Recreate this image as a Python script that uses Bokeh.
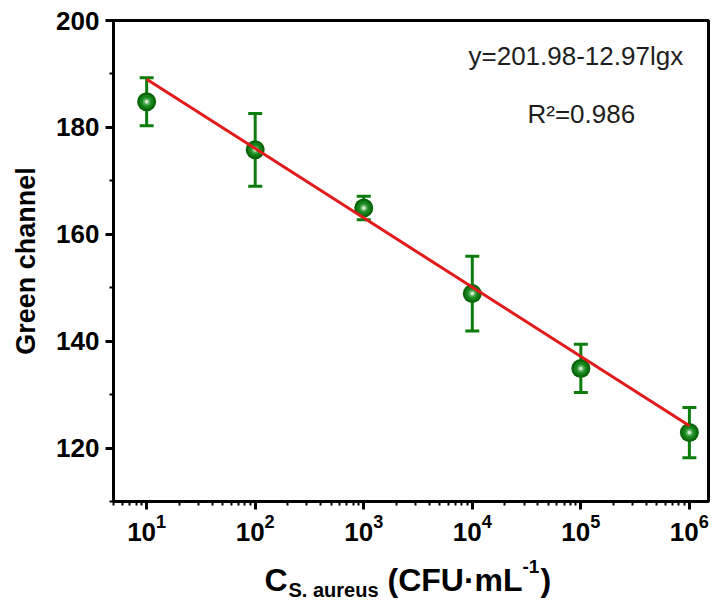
from bokeh.plotting import figure
from bokeh.layouts import column
from bokeh.models import (ColumnDataSource, Whisker, TeeHead, Label, LogTicker,
                          SingleIntervalTicker, Range1d, LogTickFormatter)
from bokeh.core.properties import value
from bokeh.embed import file_html
from bokeh.resources import INLINE
import math

# ---- data ----
conc = [1e1, 1e2, 1e3, 1e4, 1e5, 1e6]
green = [184.8, 175.8, 164.9, 148.9, 134.9, 122.9]
green_err = [4.5, 6.8, 2.2, 7.0, 4.5, 4.7]
fit_intercept = 201.98
fit_slope = -12.97
fit_x = [1e1, 1e6]
eq_text = "y=201.98-12.97lgx"
r2_text = "R²=0.986"
y_title = "Green channel"
x_title_parts = ["C", "S. aureus", "(CFU·mL", "-1", ")"]

fit_y = [fit_intercept + fit_slope * math.log10(v) for v in fit_x]

src = ColumnDataSource(dict(
    x=conc, y=green,
    upper=[g + e for g, e in zip(green, green_err)],
    lower=[g - e for g, e in zip(green, green_err)],
))

FONT = "Liberation Sans"
GREEN = "#0c7c0c"

p = figure(width=714, height=546, x_axis_type="log",
           x_range=Range1d(4.95, 1.5e6), y_range=Range1d(110, 200),
           output_backend="svg", toolbar_location=None,
           min_border_left=113, min_border_right=6, min_border_top=20,
           min_border_bottom=45)
p.grid.visible = False
p.outline_line_color = "black"
p.outline_line_width = 3
p.background_fill_color = "white"
p.border_fill_color = "white"

xa = p.xaxis[0]
xa.ticker = LogTicker(num_minor_ticks=10, mantissas=[1])
xa.formatter = LogTickFormatter()
ya = p.yaxis[0]
ya.ticker = SingleIntervalTicker(interval=20, num_minor_ticks=2)
ya.axis_label = y_title
ya.axis_label_text_font = FONT
ya.axis_label_text_font_style = "bold"
ya.axis_label_text_font_size = "27px"
ya.axis_label_text_color = "black"
ya.axis_label_standoff = 12
for ax in (xa, ya):
    ax.axis_line_width = 3
    ax.axis_line_color = "black"
    ax.major_tick_line_width = 3
    ax.minor_tick_line_width = 2
    ax.major_tick_out = 8
    ax.major_tick_in = 0
    ax.minor_tick_out = 4
    ax.minor_tick_in = 0
    ax.major_label_text_font = FONT
    ax.major_label_text_font_style = "bold"
    ax.major_label_text_font_size = "26px"
    ax.major_label_text_color = "black"
ya.major_label_standoff = 6
xa.major_label_standoff = 4

wh = Whisker(source=src, base="x", upper="upper", lower="lower",
             line_color=GREEN, line_width=3, level="underlay",
             upper_head=TeeHead(size=14, line_color=GREEN, line_width=3),
             lower_head=TeeHead(size=14, line_color=GREEN, line_width=3))
p.add_layout(wh)

p.scatter("x", "y", source=src, size=19, fill_color="#0a660a", line_color=None)
p.scatter("x", "y", source=src, size=14, fill_color="#15841a", line_color=None)
p.scatter("x", "y", source=src, size=8, fill_color="#4aa84e", line_color=None)
p.scatter("x", "y", source=src, size=4, fill_color="#cfe8cf", line_color=None)

p.line(fit_x, fit_y, line_color="#e31a1c", line_width=3)

p.add_layout(Label(x=355, y=431, x_units="screen", y_units="screen", text=eq_text,
                   text_font=FONT, text_font_size="26px", text_color="#1e1e1e"))
p.add_layout(Label(x=414, y=373, x_units="screen", y_units="screen", text=r2_text,
                   text_font=FONT, text_font_size="26px", text_color="#1e1e1e"))

# ---- x-axis title strip (sub/superscripts); frame aligned with main frame ----
t = figure(width=714, height=60, x_range=Range1d(113, 708), y_range=Range1d(0, 60),
           output_backend="svg", toolbar_location=None,
           x_axis_location=None, y_axis_location=None, min_border=0)
t.grid.visible = False
t.outline_line_color = None
t.background_fill_color = "white"
t.border_fill_color = "white"

title_x = [264, 288, 387, 522, 540]
title_y = [27, 17, 27, 40, 27]
title_size = ["32px", "20px", "32px", "19px", "32px"]
for xx, yy, tx, sz in zip(title_x, title_y, x_title_parts, title_size):
    t.text(x=[xx], y=[yy], text=[tx], text_font=value(FONT), text_font_style="bold",
           text_font_size=sz, text_color="black", text_baseline="alphabetic",
           text_align="left")

open("out.html", "w").write(file_html(column(p, t, spacing=0), INLINE))
